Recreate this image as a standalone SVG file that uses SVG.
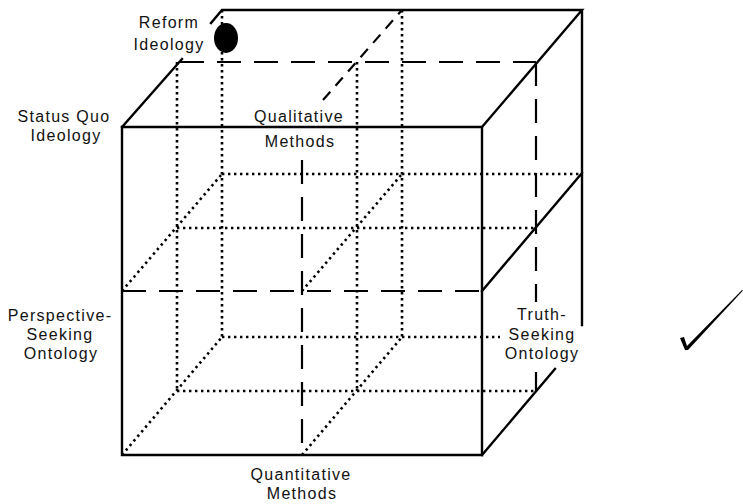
<svg xmlns="http://www.w3.org/2000/svg" width="743" height="504" viewBox="0 0 743 504">
<style>
.s{stroke:#000;stroke-width:2.4;fill:none;stroke-linecap:square}
.d{stroke:#000;stroke-width:2.2;fill:none;stroke-dasharray:24 13}
.dd{stroke:#000;stroke-width:2.2;fill:none;stroke-dasharray:11 8}
.o{stroke:#000;stroke-width:2.6;fill:none;stroke-dasharray:2.4 3.6}
text{font-family:"Liberation Sans",Arial,sans-serif;font-size:16px;letter-spacing:1.3px;fill:#111;text-anchor:middle}
</style>
<rect width="743" height="504" fill="#fff"/>
<g id="connectors">
  <!-- hidden dotted lines -->
  <path class="o" d="M177,62V391M222,10V337M357,62V391M402,10V337"/>
  <path class="o" d="M222,174H582M177,228H536M222,337H500M177,391H536"/>
  <path class="o" d="M122,291L222,174M122,455L222,337M302,455L402,337M302,291L402,174"/>
  <!-- dashed mid lines -->
  <path class="d" d="M180,62H536"/>
  <path class="d" d="M536,62V302M536,372V391"/>
  <path class="d" d="M122,291H482"/>
  <path class="d" d="M302,160V455"/>
  <path class="dd" d="M323,100L402,10"/>
  <!-- solid edges -->
  <path class="s" d="M122,127H482V455H122Z"/>
  <path class="s" d="M122,127L182,59M211,23L222,10H582L482,127M582,10V325M482,291L582,173M482,455L555,369"/>
</g>
<g id="reform-marker"><ellipse cx="226" cy="38" rx="12" ry="15" fill="#000"/></g>
<g id="label-reform"><text x="169" y="28">Reform</text><text x="169" y="50">Ideology</text></g>
<g id="label-status-quo"><text x="64" y="122">Status Quo</text><text x="66" y="141">Ideology</text></g>
<g id="label-qualitative"><text x="299" y="122">Qualitative</text><text x="300" y="147">Methods</text></g>
<g id="label-perspective"><text x="60" y="321">Perspective-</text><text x="60" y="340">Seeking</text><text x="61" y="359">Ontology</text></g>
<g id="label-truth"><text x="542" y="320">Truth-</text><text x="542" y="340">Seeking</text><text x="542" y="359">Ontology</text></g>
<g id="label-quantitative"><text x="301" y="480">Quantitative</text><text x="302" y="499">Methods</text></g>
<g id="checkmark"><path d="M680,338L684,337L687,346L742,290L743,290.5L688,350L685,350Z" fill="#000"/></g>
</svg>
